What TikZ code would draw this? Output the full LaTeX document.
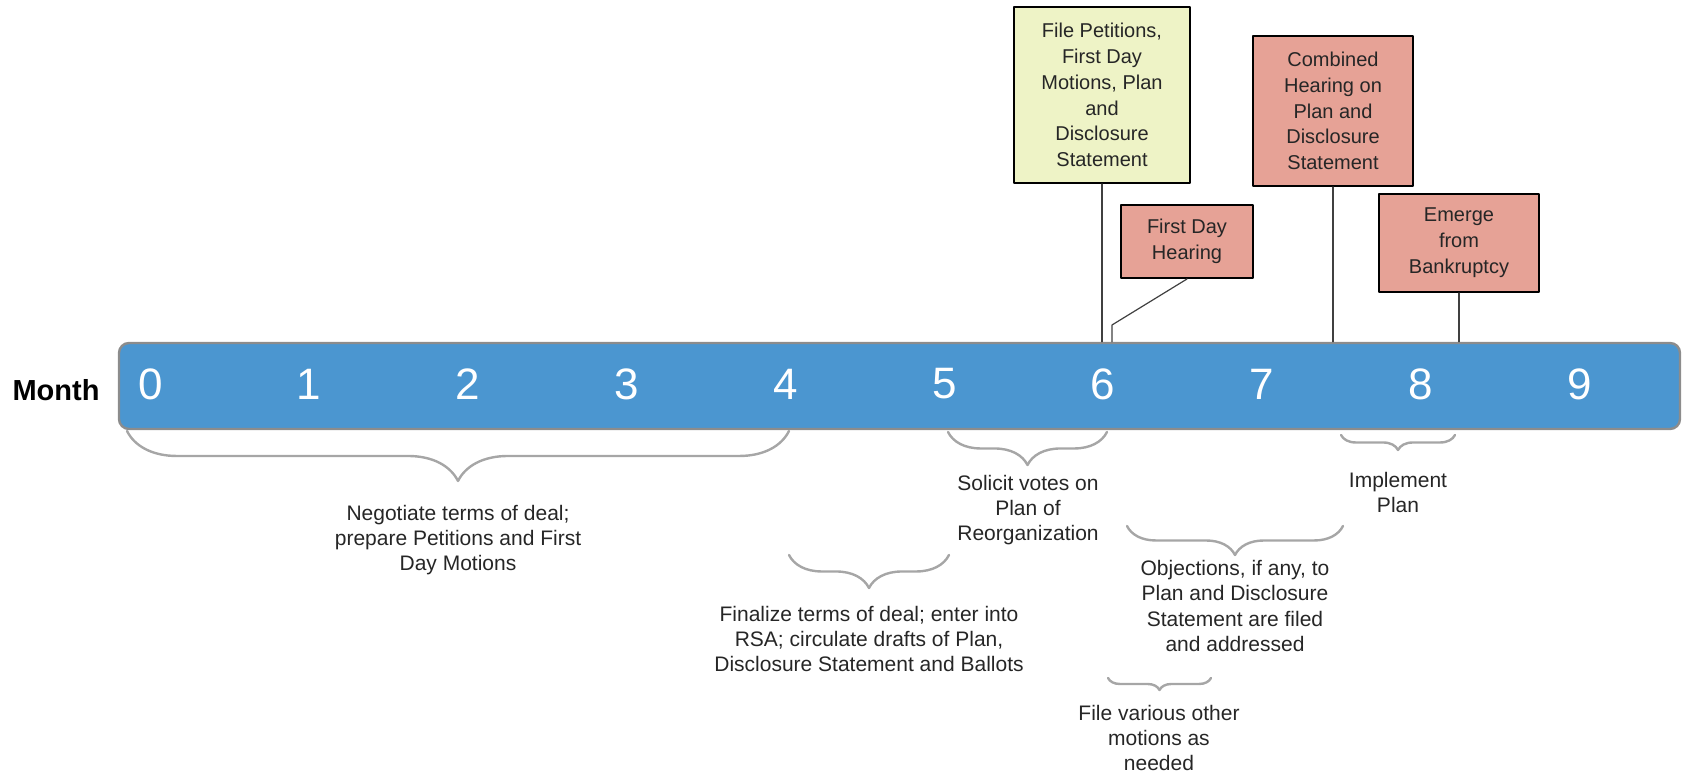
\documentclass[tikz,border=0pt]{standalone}
\usepackage{fontspec}
\setmainfont{Liberation Sans}
\usetikzlibrary{decorations.pathreplacing}
\definecolor{barblue}{RGB}{75,150,208}
\definecolor{evtpale}{RGB}{238,243,198}
\definecolor{evtred}{RGB}{230,162,150}
\begin{document}
\begin{tikzpicture}[x=0.5pt, y=0.5pt, line join=round, line cap=round,
	evt/.style={draw=black, line width=1pt, inner sep=0pt, align=center, text=black!85, font=\fontsize{10}{12.9}\selectfont},
	brc/.style={draw=black!35, line width=1.2pt, decorate, decoration={brace, mirror, amplitude=#1}},
	lbl/.style={align=center, text=black!85, font=\fontsize{10.5}{12.6}\selectfont},
	mnum/.style={text=white, inner sep=0pt, font=\fontsize{22}{26}\selectfont},
	stem/.style={draw=black!75, line width=0.6pt}]
	\useasboundingbox (0,0) rectangle (1683,774);
	% the month bar
	\node[draw=black!45, line width=1.2pt, fill=barblue, rounded corners=5pt, minimum width=780.5pt, minimum height=43pt, inner sep=0pt] (bar) at (899.5,388) {};
	\node[font=\bfseries\fontsize{14.5}{17}\selectfont] (month) at (56,384) {Month};
	\foreach \n in {0,...,9}\node[mnum] (m\n) at ({150.3+158.8*\n},390) {\n};
	% events above the bar
	\node[evt, fill=evtpale, minimum width=88pt, minimum height=88pt] (file) at (1102,679) {File Petitions,\\First Day\\Motions, Plan\\and\\Disclosure\\Statement};
	\node[evt, fill=evtred, minimum width=66pt, minimum height=36.5pt] (fdh) at (1187,532.5) {First Day\\Hearing};
	\node[evt, fill=evtred, minimum width=80pt, minimum height=75pt] (cmb) at (1333,663) {Combined\\Hearing on\\Plan and\\Disclosure\\Statement};
	\node[evt, fill=evtred, minimum width=80pt, minimum height=49pt] (emg) at (1459,531) {Emerge\\from\\Bankruptcy};
	\coordinate (fdhbend) at (1112,449);
	\draw[stem] (file.south) -- (file.south |- bar.north);
	\draw[stem] (fdh.south) -- (fdhbend) -- (fdhbend |- bar.north);
	\draw[stem] (cmb.south) -- (cmb.south |- bar.north);
	\draw[stem] (emg.south) -- (emg.south |- bar.north);
	% braces and phases below the bar
	\draw[brc=25pt] (127,343) -- (789,343);
	\draw[brc=16.5pt] (948,342) -- (1107,342);
	\draw[brc=16.5pt] (789,219) -- (949,219);
	\draw[brc=14.5pt] (1127,248) -- (1343,248);
	\draw[brc=6pt] (1108,96) -- (1211,96);
	\draw[brc=7.5pt] (1341,339) -- (1455,339);
	\node[lbl] (negot) at (458,234) {Negotiate terms of deal;\\prepare Petitions and First\\Day Motions};
	\node[lbl] (solic) at (1028,264) {Solicit votes on\\Plan of\\Reorganization};
	\node[lbl] (final) at (869,135) {Finalize terms of deal; enter into\\RSA; circulate drafts of Plan,\\Disclosure Statement and Ballots};
	\node[lbl] (objec) at (1235,168) {Objections, if any, to\\Plan and Disclosure\\Statement are filed\\and addressed};
	\node[lbl] (fvar) at (1159,36) {File various other\\motions as\\needed};
	\node[lbl] (impl) at (1398,281.5) {Implement\\Plan};
\end{tikzpicture}
\end{document}
